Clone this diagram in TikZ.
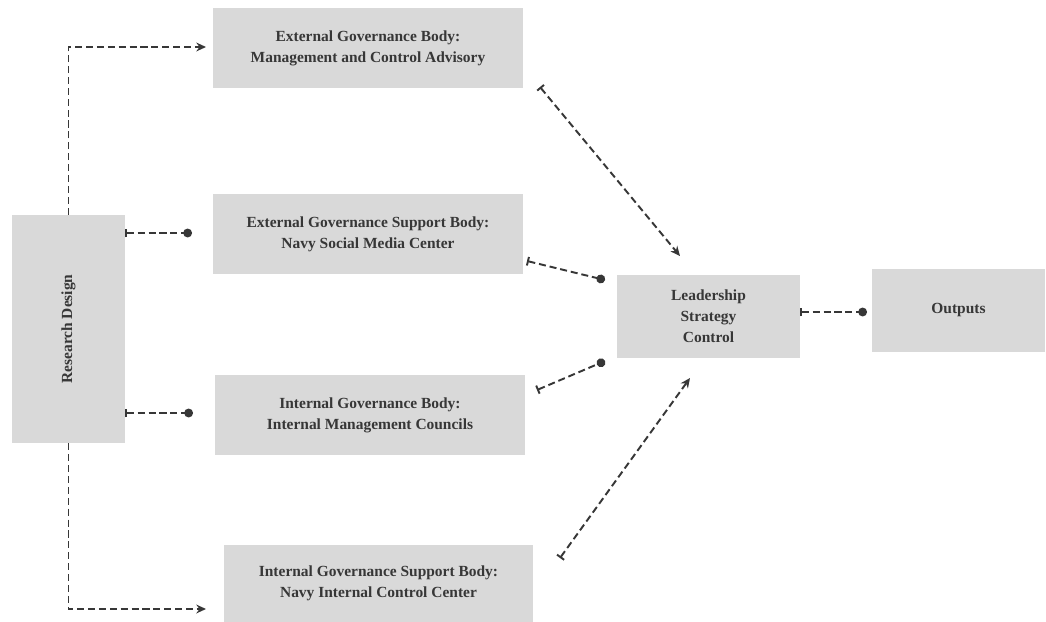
\documentclass[tikz,border=0pt]{standalone}
\usepackage{fontspec}
\setmainfont{Liberation Serif}
\usetikzlibrary{arrows.meta}
\definecolor{boxgray}{RGB}{217,217,217}
\definecolor{inkgray}{RGB}{55,55,55}

\begin{document}
\begin{tikzpicture}[x=0.02cm, y=-0.02cm,
    box/.style={fill=boxgray, inner sep=0pt, align=center, text=inkgray,
      font=\fontsize{8.8}{11.9}\selectfont\bfseries},
    link/.style={draw=inkgray, line width=1.1pt, dash pattern=on 4pt off 2.2pt},
    tip/.style={link, -{Stealth[length=5.5pt, width=5pt]}},
    tee/.style={link, {Bar[width=5pt]}-{Circle[length=5pt]}},
    teetip/.style={link, {Bar[width=5pt]}-{Stealth[length=5.5pt, width=5pt]}}]
  \useasboundingbox (0,0) rectangle (1046,622);

  % boxes
  \node (rd) [box, minimum width=228*0.02cm, minimum height=113*0.02cm, rotate=90] at (68.5,329) {Research Design};
  \node (egb) [box, minimum width=310*0.02cm, minimum height=80*0.02cm] at (368,48) {External Governance Body:\\Management and Control Advisory};
  \node (esb) [box, minimum width=310*0.02cm, minimum height=80*0.02cm] at (368,234) {External Governance Support Body:\\Navy Social Media Center};
  \node (igb) [box, minimum width=310*0.02cm, minimum height=80*0.02cm] at (370,415) {Internal Governance Body:\\Internal Management Councils};
  \node (isb) [box, minimum width=309*0.02cm, minimum height=77*0.02cm] at (378.5,583.5) {Internal Governance Support Body:\\Navy Internal Control Center};
  \node (lsc) [box, minimum width=183*0.02cm, minimum height=83*0.02cm] at (708.5,316.5) {Leadership\\Strategy\\Control};
  \node (out) [box, minimum width=173*0.02cm, minimum height=83*0.02cm] at (958.5,310) {Outputs};

  % free ends
  \coordinate (egb-in) at (206,47);
  \coordinate (isb-in) at (206,609);
  \coordinate (esb-dot) at (192,233);
  \coordinate (igb-dot) at (193,413);
  \coordinate (egb-out) at (540,87);
  \coordinate (esb-out) at (527,261);
  \coordinate (igb-out) at (537,390);
  \coordinate (isb-out) at (560,558);
  \coordinate (lsc-in1) at (680,256);
  \coordinate (lsc-in2) at (605,280);
  \coordinate (lsc-in3) at (605,361);
  \coordinate (lsc-in4) at (690,378);
  \coordinate (out-dot) at (867,312);

  % connectors
  \draw[tip] (rd.east) |- (egb-in);
  \draw[tip] (rd.west) |- (isb-in);
  \draw[tee] (rd.south |- esb-dot) -- (esb-dot);
  \draw[tee] (rd.south |- igb-dot) -- (igb-dot);
  \draw[teetip] (egb-out) -- (lsc-in1);
  \draw[tee] (esb-out) -- (lsc-in2);
  \draw[tee] (igb-out) -- (lsc-in3);
  \draw[teetip] (isb-out) -- (lsc-in4);
  \draw[tee] (lsc.east |- out-dot) -- (out-dot);
\end{tikzpicture}
\end{document}
